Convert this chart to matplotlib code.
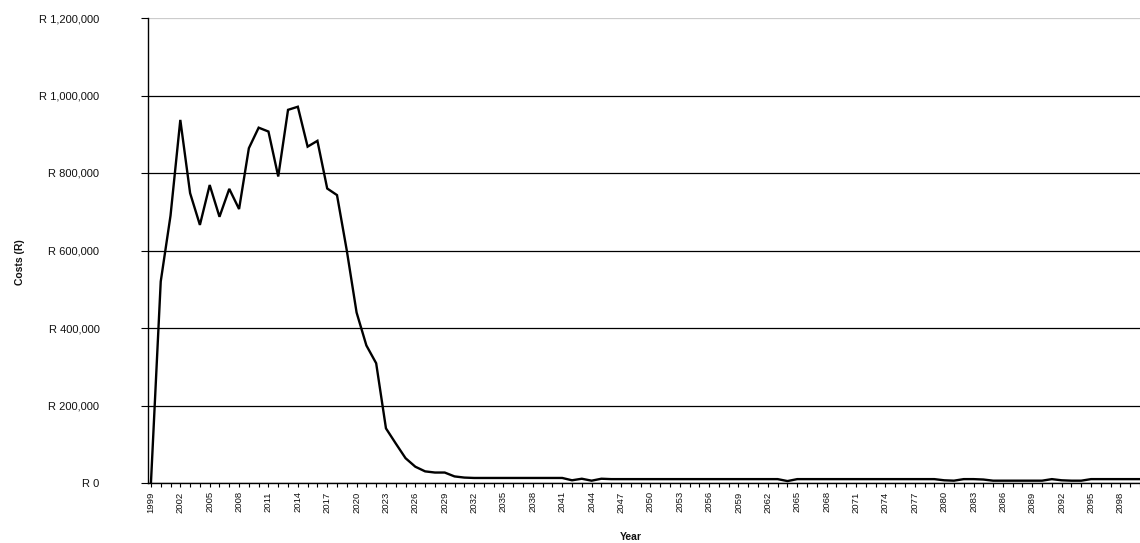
import matplotlib.pyplot as plt
from matplotlib.ticker import FuncFormatter

plt.rcParams['font.family'] = ['Liberation Sans', 'DejaVu Sans']

# years on the category axis
years = list(range(1999, 2101))

# yearly costs in Rand
costs = [
    0, 520000, 690000, 937000, 748000, 666000, 769000, 687000, 759000, 707000,
    864000, 917000, 907000, 791000, 963000, 971000, 868000, 883000, 760000, 743000,
    600000, 440000, 355000, 309000, 141000, 102000, 64000, 42000, 30000, 27000,
    27000, 17000, 14000, 13000,
    13000, 13000, 13000, 13000, 13000, 13000, 13000, 13000, 13000,
    7000, 11000, 6000, 11000,
    10000, 10000, 10000, 10000, 10000, 10000, 10000, 10000, 10000,
    10000, 10000, 10000, 10000, 10000, 10000, 10000, 10000, 10000,
    5000,
    10000, 10000, 10000, 10000, 10000, 10000, 10000, 10000, 10000, 10000,
    10000, 10000, 10000, 10000, 10000,
    7000, 6000, 10000, 10000, 9000,
    6000, 6000, 6000, 6000, 6000, 6000,
    10000, 7000, 6000, 6000,
    10000, 10000, 10000, 10000, 10000, 10000,
]

y_ticks = [0, 200000, 400000, 600000, 800000, 1000000, 1200000]

fig = plt.figure(figsize=(11.4, 5.43), dpi=100)
ax = fig.add_axes([148 / 1140, 60 / 543, 1 - 148 / 1140, 465 / 543])

x = list(range(len(years)))
ax.plot(x, costs, color='black', linewidth=1.7, solid_joinstyle='miter')

ax.set_ylim(0, 1200000)
ax.set_yticks(y_ticks)
ax.yaxis.set_major_formatter(FuncFormatter(lambda v, p: 'R ' + f'{int(v):,}'))
ax.set_xlim(-0.3, (1140 - 151) / 9.87)

# every year gets a tick, every third year a label
ax.set_xticks(x)
ax.set_xticklabels([str(y) if (y - 1999) % 3 == 0 else '' for y in years],
                   rotation=90, fontsize=6.8, color='#111111')
ax.tick_params(axis='x', length=3, width=0.8, pad=3)
ax.tick_params(axis='y', length=5, width=0.8, pad=30, labelsize=8,
               labelcolor='#111111')

ax.grid(axis='y', color='black', linewidth=0.9)
ax.get_ygridlines()[-1].set_color('#cccccc')
ax.set_axisbelow(True)

for side in ['top', 'right']:
    ax.spines[side].set_visible(False)
ax.spines['left'].set_linewidth(1.0)
ax.spines['bottom'].set_linewidth(1.0)

fig.text(20 / 1140, 1 - 262 / 543, 'Costs (R)', rotation=90, ha='center',
         va='center', fontsize=7.5, fontweight='bold', color='#111111')
fig.text(631 / 1140, 1 - 537 / 543, 'Year', ha='center', va='center',
         fontsize=7.5, fontweight='bold', color='#111111')

fig.savefig('out.png', dpi=100)
